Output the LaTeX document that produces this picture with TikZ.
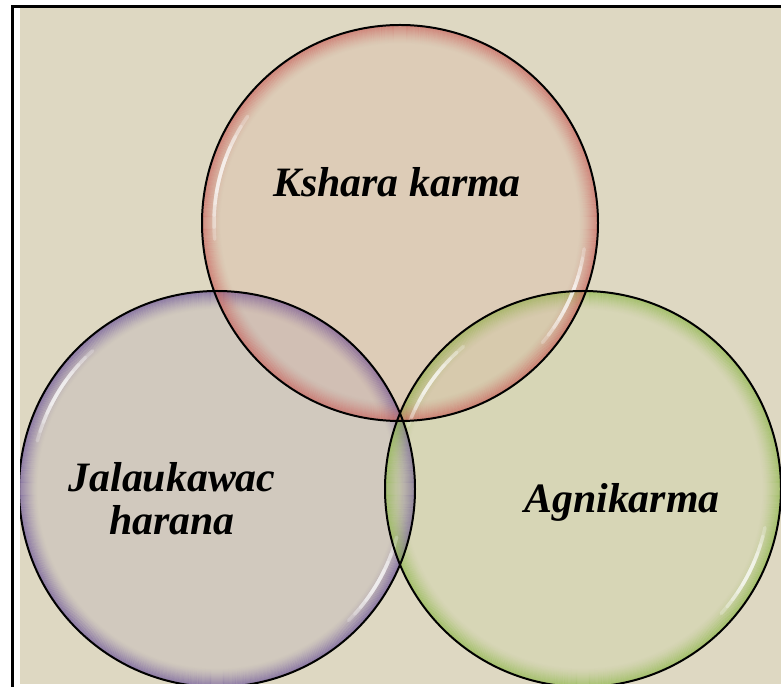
\documentclass[tikz,border=0pt]{standalone}
\usepackage{fontspec}
\setmainfont{Liberation Serif}
\definecolor{bgbeige}{HTML}{DED8C2}
\definecolor{rimred}{RGB}{200,90,85}
\definecolor{rimpurple}{RGB}{100,75,150}
\definecolor{rimgreen}{RGB}{135,180,65}
\definecolor{fillred}{RGB}{215,120,110}
\definecolor{fillpurple}{RGB}{120,100,165}
\definecolor{fillgreen}{RGB}{170,205,100}
\tikzset{
  bubbleborder/.style={circle, draw=black, line width=2pt, minimum size=396bp, inner sep=0pt},
  lbl/.style={font=\fontsize{42}{43}\selectfont\bfseries\itshape, inner sep=0pt, text=black}
}
% #1 cx, #2 cy, #3 fill colour, #4 rim colour
\newcommand{\bubblebody}[4]{%
  \fill[#3, fill opacity=0.12] (#1,#2) circle (198);
  \foreach \i [evaluate=\i as \op using {0.5*(1-\i/18)^1.5}] in {0,...,17}{
    \draw[#4, line width=1.3pt, opacity=\op] (#1,#2) circle ({197-\i});
  }
}
% white highlight arc: #1 cx, #2 cy, #3 start angle, #4 end angle
\newcommand{\bubblehl}[4]{%
  \foreach \j in {0,...,4}{
    \pgfmathsetmacro\haa{#3+\j*(#4-#3)/11}
    \pgfmathsetmacro\hbb{#4-\j*(#4-#3)/11}
    \draw[white, line width=3.5pt, opacity=0.25, line cap=round, shift={(#1,#2)}] (\haa:186) arc (\haa:\hbb:186);
  }
}
\begin{document}
\begin{tikzpicture}[x=1bp,y=1bp]
\useasboundingbox (0,0) rectangle (781,691);
% page frame
\fill[white] (0,0) rectangle (781,691);
\fill[bgbeige] (20,7) rectangle (781,683);
\fill[black] (10.5,4) rectangle (13.5,685.5);
\fill[black] (10.5,683) rectangle (781,685.5);
\begin{scope}
\clip (20,7) rectangle (781,683);
% bubbles
\bubblebody{217}{202}{fillpurple}{rimpurple}
\bubblebody{583}{202}{fillgreen}{rimgreen}
\bubblebody{400}{468}{fillred}{rimred}
\bubblehl{217}{202}{132}{165}
\bubblehl{217}{202}{-15}{-45}
\bubblehl{583}{202}{130}{160}
\bubblehl{583}{202}{-12}{-42}
\bubblehl{400}{468}{145}{185}
\bubblehl{400}{468}{-8}{-40}
\node[bubbleborder] (jala) at (217,202) {};
\node[bubbleborder] (agni) at (583,202) {};
\node[bubbleborder] (kshara) at (400,468) {};
\end{scope}
% labels
\node[lbl, anchor=base] (ksharatext) at (397,494) {Kshara karma};
\node[lbl, anchor=base] (jalatext1) at (172,199) {Jalaukawac};
\node[lbl, anchor=base] (jalatext2) at (172,156) {harana};
\node[lbl, anchor=base] (agnitext) at (622,178) {Agnikarma};
\end{tikzpicture}
\end{document}
